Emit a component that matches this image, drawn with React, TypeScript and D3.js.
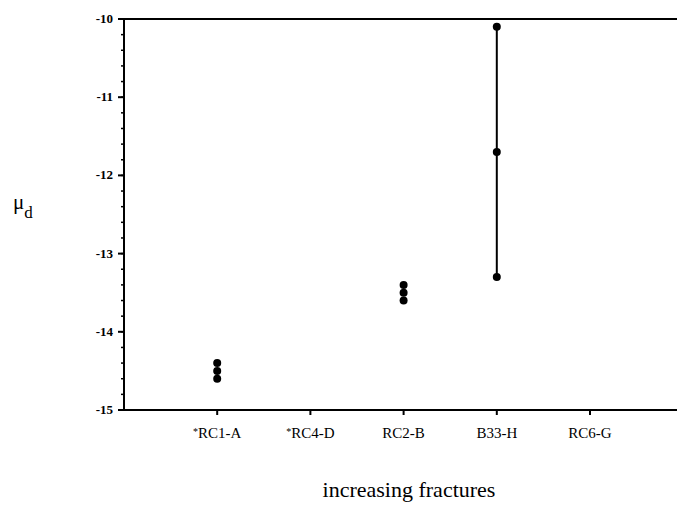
import React from "react";
import * as d3 from "d3";

// Sample categories, ordered by increasing fractures
const categories = ["RC1-A", "RC4-D", "RC2-B", "B33-H", "RC6-G"];
const starred = [true, true, false, false, false];

// Measured μd values per sample
const sampleNames = ["RC1-A", "RC1-A", "RC1-A", "RC2-B", "RC2-B", "RC2-B", "B33-H", "B33-H", "B33-H"];
const muValues = [-14.4, -14.5, -14.6, -13.4, -13.5, -13.6, -10.1, -11.7, -13.3];

// Samples whose range is drawn as a vertical bar
const rangeSamples = ["B33-H"];

const yTicks = [-10, -11, -12, -13, -14, -15];

const W = 677;
const H = 506;
const left = 124;
const top = 19;
const bottom = 410;

export default function App() {
  const y = d3.scaleLinear().domain([-10, -15]).range([top, bottom]);
  const x = d3.scaleLinear().domain([0, 6]).range([left, left + 6 * 93.2]);
  const xOf = (name: string) => x(categories.indexOf(name) + 1);
  const minor = d3.range(-15, -9.99, 0.2).map((v) => +v.toFixed(1));
  const font = "Liberation Serif, DejaVu Serif, serif";

  return (
    <svg
      width={W}
      height={H}
      style={{ position: "absolute", left: 0, top: 0, background: "#fff", fontFamily: font }}
    >
      {/* frame: left, top and bottom axis lines */}
      <line x1={left} x2={left} y1={top} y2={bottom} stroke="#000" strokeWidth={2} />
      <line x1={left - 1} x2={W} y1={top} y2={top} stroke="#000" strokeWidth={2} />
      <line x1={left - 6} x2={W} y1={bottom} y2={bottom} stroke="#000" strokeWidth={2} />

      {/* y minor ticks */}
      {minor.map((v, i) => (
        <line key={"m" + i} x1={left - 3} x2={left} y1={y(v)} y2={y(v)} stroke="#000" strokeWidth={1.5} />
      ))}
      {/* y major ticks and labels */}
      {yTicks.map((v) => (
        <g key={v}>
          <line x1={left - 6} x2={left} y1={y(v)} y2={y(v)} stroke="#000" strokeWidth={2} />
          <text x={left - 11} y={y(v) + 4} textAnchor="end" fontSize={13} fontWeight="bold" style={{ fontFamily: font }}>
            {"-" + Math.abs(v)}
          </text>
        </g>
      ))}

      {/* x ticks and category labels */}
      {categories.map((c, i) => (
        <g key={c}>
          <line x1={x(i + 1)} x2={x(i + 1)} y1={bottom} y2={bottom + 5} stroke="#000" strokeWidth={2} />
          <text x={x(i + 1)} y={bottom + 28} textAnchor="middle" fontSize={15} style={{ fontFamily: font }}>
            {starred[i] ? <tspan fontSize={10} dy={-3}>*</tspan> : null}
            {starred[i] ? <tspan dy={3}>{c}</tspan> : c}
          </text>
        </g>
      ))}

      {/* range bars */}
      {rangeSamples.map((s) => {
        const vals = muValues.filter((_, i) => sampleNames[i] === s);
        return (
          <line
            key={s}
            x1={xOf(s)}
            x2={xOf(s)}
            y1={y(d3.max(vals)!)}
            y2={y(d3.min(vals)!)}
            stroke="#000"
            strokeWidth={2}
          />
        );
      })}

      {/* data points */}
      {muValues.map((v, i) => (
        <circle key={i} cx={xOf(sampleNames[i])} cy={y(v)} r={4} fill="#000" />
      ))}

      {/* axis titles */}
      <text x={13} y={209} fontSize={21} style={{ fontFamily: font }}>
        μ<tspan fontSize={17} dy={9}>d</tspan>
      </text>
      <text x={409} y={497} textAnchor="middle" fontSize={22} style={{ fontFamily: font }}>
        increasing fractures
      </text>
    </svg>
  );
}
